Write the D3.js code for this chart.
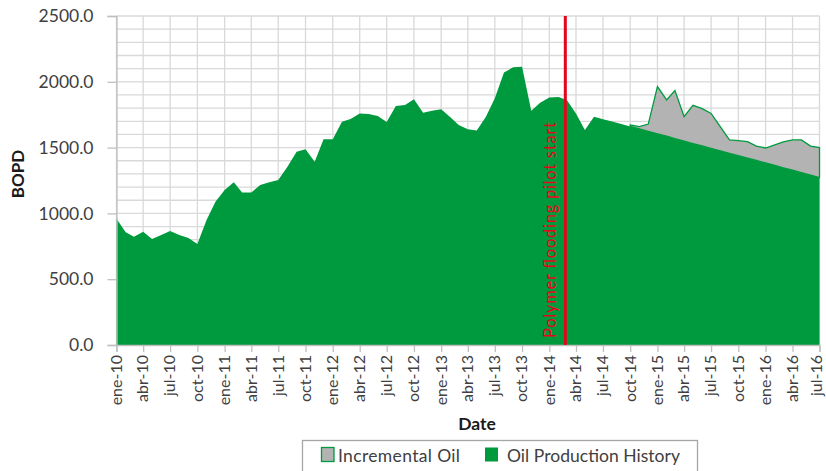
<!DOCTYPE html>
<html>
<head>
<meta charset="utf-8">
<script src="https://cdn.jsdelivr.net/npm/d3@7"></script>
<style>
  html, body { margin: 0; padding: 0; background: #ffffff; }
  svg { display: block; font-family: "Lato", "DejaVu Sans", sans-serif; }
</style>
</head>
<body>
<svg id="chart" width="826" height="471"></svg>
<script>
// ---- Data ----
const startMonth = "2010-01-01";           // first month (ene-10)
// Oil production history (BOPD), monthly from ene-10 to jul-16
const oilHistory = [
  960, 856, 823, 861, 806, 836, 866, 836, 813, 768, 950, 1089,      // 2010
  1178, 1236, 1158, 1158, 1216, 1236, 1254, 1355, 1469, 1487, 1393, 1563, // 2011
  1563, 1697, 1717, 1760, 1755, 1740, 1695, 1816, 1824, 1867, 1765, 1780, // 2012
  1791, 1730, 1672, 1639, 1629, 1735, 1875, 2070, 2110, 2115, 1780, 1840, // 2013
  1880, 1885, 1862, 1760, 1634, 1735, 1716, 1698, 1679, 1661, 1642, 1624, // 2014
  1605, 1587, 1568, 1550, 1531, 1513, 1494, 1476, 1457, 1439, 1420, 1402, // 2015
  1383, 1365, 1346, 1328, 1309, 1291, 1272                               // 2016
];
// Incremental oil (BOPD) stacked on top, oct-14 to jul-16
const incrementalStart = "2014-10-01";
const incrementalOil = [
  11, 17, 55, 358, 275, 365, 185, 290, 283, 266, 183, 101,
  114, 125, 110, 114, 155, 197, 230, 249, 221, 228
];
const pilotStart = "2014-02-24";
const pilotLabel = "Polymer flooding pilot start";
const yTicks = [0, 500, 1000, 1500, 2000, 2500];
const monthNames = ["ene","feb","mar","abr","may","jun","jul","ago","sep","oct","nov","dic"];
const seriesNames = ["Incremental Oil", "Oil Production History"];

// ---- Build ----
const parse = d3.timeParse("%Y-%m-%d");
const t0 = parse(startMonth);
const rows = oilHistory.map((v, i) => ({ date: d3.timeMonth.offset(t0, i), base: v, inc: 0, hasInc: false }));
const incT = parse(incrementalStart);
const incOffset = d3.timeMonth.count(t0, incT);
incrementalOil.forEach((v, i) => { rows[incOffset + i].inc = v; rows[incOffset + i].hasInc = true; });

const svg = d3.select("#chart");
const pL = 116.5, pR = 819.5, pT = 16, pB = 345;

const x = d3.scaleTime().domain([rows[0].date, rows[rows.length - 1].date]).range([pL, pR]);
const y = d3.scaleLinear().domain([0, 2500]).range([pB, pT]);

const green = "#009a3e", gray = "#b3b3b3", red = "#e3061b", grid = "#d9d9d9", axisCol = "#bfbfbf", txt = "#404040";

// gridlines
const gridG = svg.append("g");
d3.range(100, 2501, 100).forEach(v => {
  gridG.append("line").attr("x1", pL).attr("x2", pR).attr("y1", y(v)).attr("y2", y(v))
    .attr("stroke", grid).attr("stroke-width", 1.3);
});
const xTicks = d3.timeMonth.every(3).range(rows[0].date, d3.timeDay.offset(rows[rows.length - 1].date, 1));
xTicks.forEach(d => {
  gridG.append("line").attr("x1", x(d)).attr("x2", x(d)).attr("y1", pT).attr("y2", pB)
    .attr("stroke", grid).attr("stroke-width", 1.3);
});

// incremental area (stacked)
const incRows = rows.filter(r => r.hasInc);
svg.append("path").datum(incRows)
  .attr("d", d3.area().x(d => x(d.date)).y0(d => y(d.base)).y1(d => y(d.base + d.inc)))
  .attr("fill", gray).attr("stroke", green).attr("stroke-width", 1.3);

// base area
svg.append("path").datum(rows)
  .attr("d", d3.area().x(d => x(d.date)).y0(y(0)).y1(d => y(d.base)))
  .attr("fill", green);

// axes
const yAxis = d3.axisLeft(y).tickValues(yTicks).tickSize(9).tickFormat(d3.format(".1f"));
const yg = svg.append("g").attr("transform", `translate(${pL},0)`).call(yAxis);
yg.select(".domain").attr("stroke", axisCol).attr("stroke-width", 1.3);
yg.selectAll(".tick line").attr("stroke", axisCol).attr("stroke-width", 1.3);
yg.selectAll(".tick text").attr("fill", txt).attr("font-size", 17.5).attr("x", -23)
  .attr("font-family", "Lato, sans-serif");

const fmtX = d => monthNames[d.getMonth()] + "-" + String(d.getFullYear()).slice(2);
const xAxis = d3.axisBottom(x).tickValues(xTicks).tickSize(7).tickFormat(fmtX);
const xg = svg.append("g").attr("transform", `translate(0,${pB})`).call(xAxis);
xg.select(".domain").attr("stroke", axisCol).attr("stroke-width", 1.3);
xg.selectAll(".tick line").attr("stroke", axisCol).attr("stroke-width", 1.3);
xg.selectAll(".tick text").attr("fill", txt).attr("font-size", 16).attr("font-family", "Lato, sans-serif")
  .attr("text-anchor", "end").attr("transform", "rotate(-90)")
  .attr("x", -10).attr("y", (d, i, n) => i === n.length - 1 ? -3 : 0).attr("dy", "0.3em");

// pilot line
const px = x(parse(pilotStart));
svg.append("line").attr("x1", px).attr("x2", px).attr("y1", pT).attr("y2", pB)
  .attr("stroke", red).attr("stroke-width", 3);
svg.append("text").attr("transform", `translate(${px - 9},${pB - 7}) rotate(-90)`)
  .attr("fill", red).attr("font-size", 16.5)
  .attr("textLength", 216).attr("lengthAdjust", "spacing").text(pilotLabel);

// axis titles
svg.append("text").attr("transform", "translate(24,174) rotate(-90)").attr("text-anchor", "middle")
  .attr("font-size", 17).attr("font-weight", "bold").attr("fill", "#1a1a1a").text("BOPD");
svg.append("text").attr("x", 477).attr("y", 430).attr("text-anchor", "middle")
  .attr("font-size", 17.5).attr("font-weight", "bold").attr("fill", "#1a1a1a").text("Date");

// legend
const lg = svg.append("g");
lg.append("rect").attr("x", 302.5).attr("y", 440.5).attr("width", 395).attr("height", 40)
  .attr("fill", "#fff").attr("stroke", "#a6a6a6").attr("stroke-width", 1.3);
lg.append("rect").attr("x", 321.5).attr("y", 447.5).attr("width", 12.5).attr("height", 14)
  .attr("fill", gray).attr("stroke", green).attr("stroke-width", 1.3);
lg.append("text").attr("x", 338).attr("y", 461.5).attr("font-size", 17.5).attr("fill", txt)
  .attr("textLength", 122).attr("lengthAdjust", "spacing").text(seriesNames[0]);
lg.append("rect").attr("x", 485).attr("y", 447.5).attr("width", 13).attr("height", 14).attr("fill", green);
lg.append("text").attr("x", 507).attr("y", 461.5).attr("font-size", 17.5).attr("fill", txt)
  .attr("textLength", 173).attr("lengthAdjust", "spacing").text(seriesNames[1]);
</script>
</body>
</html>
